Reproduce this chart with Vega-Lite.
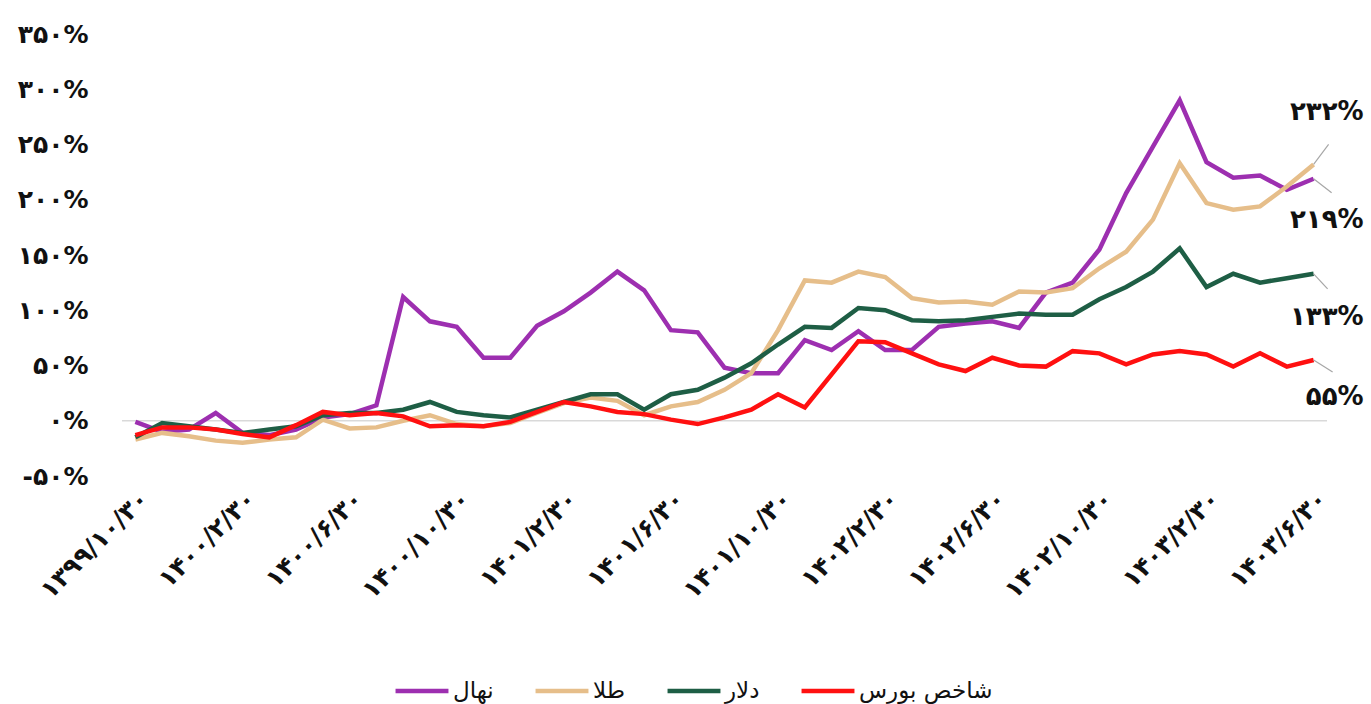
{
  "$schema": "https://vega.github.io/schema/vega-lite/v6.json",
  "autosize": {"type": "none"},
  "width": 1205,
  "height": 442,
  "padding": {"left": 122, "top": 34, "right": 44, "bottom": 228},
  "background": "white",
  "config": {"view": {"stroke": null}, "font": "DejaVu Sans"},
  "datasets": {
    "series": [
      {"d": "۱۳۹۹/۱۰/۳۰", "نهال": -1, "طلا": -17, "دلار": -15, "شاخص بورس": -13},
      {"d": "۱۳۹۹/۱۱/۳۰", "نهال": -10, "طلا": -11, "دلار": -2, "شاخص بورس": -6},
      {"d": "۱۳۹۹/۱۲/۳۰", "نهال": -8, "طلا": -14, "دلار": -5, "شاخص بورس": -6},
      {"d": "۱۴۰۰/۱/۳۰", "نهال": 7, "طلا": -18, "دلار": -8, "شاخص بورس": -8},
      {"d": "۱۴۰۰/۲/۳۰", "نهال": -11, "طلا": -20, "دلار": -11, "شاخص بورس": -12},
      {"d": "۱۴۰۰/۳/۳۰", "نهال": -13, "طلا": -17, "دلار": -8, "شاخص بورس": -15},
      {"d": "۱۴۰۰/۴/۳۰", "نهال": -8, "طلا": -15, "دلار": -5, "شاخص بورس": -4},
      {"d": "۱۴۰۰/۵/۳۰", "نهال": 3, "طلا": 1, "دلار": 5, "شاخص بورس": 8},
      {"d": "۱۴۰۰/۶/۳۰", "نهال": 6, "طلا": -7, "دلار": 7, "شاخص بورس": 5},
      {"d": "۱۴۰۰/۷/۳۰", "نهال": 14, "طلا": -6, "دلار": 7, "شاخص بورس": 7},
      {"d": "۱۴۰۰/۸/۳۰", "نهال": 112, "طلا": 0, "دلار": 10, "شاخص بورس": 4},
      {"d": "۱۴۰۰/۹/۳۰", "نهال": 90, "طلا": 5, "دلار": 17, "شاخص بورس": -5},
      {"d": "۱۴۰۰/۱۰/۳۰", "نهال": 85, "طلا": -3, "دلار": 8, "شاخص بورس": -4},
      {"d": "۱۴۰۰/۱۱/۳۰", "نهال": 57, "طلا": -5, "دلار": 5, "شاخص بورس": -5},
      {"d": "۱۴۰۰/۱۲/۲۹", "نهال": 57, "طلا": -2, "دلار": 3, "شاخص بورس": -1},
      {"d": "۱۴۰۱/۱/۳۰", "نهال": 86, "طلا": 7, "دلار": 10, "شاخص بورس": 8},
      {"d": "۱۴۰۱/۲/۳۰", "نهال": 99, "طلا": 16, "دلار": 17, "شاخص بورس": 17},
      {"d": "۱۴۰۱/۳/۳۰", "نهال": 116, "طلا": 21, "دلار": 24, "شاخص بورس": 13},
      {"d": "۱۴۰۱/۴/۳۰", "نهال": 135, "طلا": 18, "دلار": 24, "شاخص بورس": 8},
      {"d": "۱۴۰۱/۵/۳۰", "نهال": 118, "طلا": 5, "دلار": 10, "شاخص بورس": 6},
      {"d": "۱۴۰۱/۶/۳۰", "نهال": 82, "طلا": 13, "دلار": 24, "شاخص بورس": 1},
      {"d": "۱۴۰۱/۷/۳۰", "نهال": 80, "طلا": 17, "دلار": 28, "شاخص بورس": -3},
      {"d": "۱۴۰۱/۸/۳۰", "نهال": 48, "طلا": 28, "دلار": 39, "شاخص بورس": 3},
      {"d": "۱۴۰۱/۹/۳۰", "نهال": 43, "طلا": 43, "دلار": 52, "شاخص بورس": 10},
      {"d": "۱۴۰۱/۱۰/۳۰", "نهال": 43, "طلا": 82, "دلار": 69, "شاخص بورس": 24},
      {"d": "۱۴۰۱/۱۱/۳۰", "نهال": 73, "طلا": 127, "دلار": 85, "شاخص بورس": 12},
      {"d": "۱۴۰۱/۱۲/۲۹", "نهال": 64, "طلا": 125, "دلار": 84, "شاخص بورس": 42},
      {"d": "۱۴۰۲/۱/۳۰", "نهال": 81, "طلا": 135, "دلار": 102, "شاخص بورس": 72},
      {"d": "۱۴۰۲/۲/۳۰", "نهال": 64, "طلا": 130, "دلار": 100, "شاخص بورس": 71},
      {"d": "۱۴۰۲/۳/۳۰", "نهال": 64, "طلا": 111, "دلار": 91, "شاخص بورس": 61},
      {"d": "۱۴۰۲/۴/۳۰", "نهال": 85, "طلا": 107, "دلار": 90, "شاخص بورس": 51},
      {"d": "۱۴۰۲/۵/۳۰", "نهال": 88, "طلا": 108, "دلار": 91, "شاخص بورس": 45},
      {"d": "۱۴۰۲/۶/۳۰", "نهال": 90, "طلا": 105, "دلار": 94, "شاخص بورس": 57},
      {"d": "۱۴۰۲/۷/۳۰", "نهال": 84, "طلا": 117, "دلار": 97, "شاخص بورس": 50},
      {"d": "۱۴۰۲/۸/۳۰", "نهال": 116, "طلا": 116, "دلار": 96, "شاخص بورس": 49},
      {"d": "۱۴۰۲/۹/۳۰", "نهال": 125, "طلا": 120, "دلار": 96, "شاخص بورس": 63},
      {"d": "۱۴۰۲/۱۰/۳۰", "نهال": 155, "طلا": 138, "دلار": 110, "شاخص بورس": 61},
      {"d": "۱۴۰۲/۱۱/۳۰", "نهال": 206, "طلا": 153, "دلار": 121, "شاخص بورس": 51},
      {"d": "۱۴۰۲/۱۲/۲۹", "نهال": 248, "طلا": 182, "دلار": 135, "شاخص بورس": 60},
      {"d": "۱۴۰۳/۱/۳۰", "نهال": 290, "طلا": 233, "دلار": 156, "شاخص بورس": 63},
      {"d": "۱۴۰۳/۲/۳۰", "نهال": 234, "طلا": 197, "دلار": 121, "شاخص بورس": 60},
      {"d": "۱۴۰۳/۳/۳۰", "نهال": 220, "طلا": 191, "دلار": 133, "شاخص بورس": 49},
      {"d": "۱۴۰۳/۴/۳۰", "نهال": 222, "طلا": 194, "دلار": 125, "شاخص بورس": 61},
      {"d": "۱۴۰۳/۵/۳۰", "نهال": 209, "طلا": 212, "دلار": 129, "شاخص بورس": 49},
      {"d": "۱۴۰۳/۶/۳۰", "نهال": 219, "طلا": 232, "دلار": 133, "شاخص بورس": 55}
    ],
    "labels": [
      {"s": "طلا", "d": "۱۴۰۳/۶/۳۰", "v": 232, "t": "۲۳۲%"},
      {"s": "نهال", "d": "۱۴۰۳/۶/۳۰", "v": 219, "t": "۲۱۹%"},
      {"s": "دلار", "d": "۱۴۰۳/۶/۳۰", "v": 133, "t": "۱۳۳%"},
      {"s": "شاخص بورس", "d": "۱۴۰۳/۶/۳۰", "v": 55, "t": "۵۵%"}
    ]
  },
  "layer": [
    {
      "data": {"values": [{"z": 0}]},
      "mark": {"type": "rule", "color": "#d9d9d9", "strokeWidth": 1.5},
      "encoding": {"y": {"field": "z", "type": "quantitative"}}
    },
    {
      "data": {"name": "series"},
      "transform": [{"fold": ["نهال", "طلا", "دلار", "شاخص بورس"], "as": ["s", "v"]}],
      "mark": {"type": "line", "strokeJoin": "miter", "strokeCap": "butt"},
      "encoding": {
        "x": {
          "field": "d", "type": "ordinal", "sort": null,
          "scale": {"type": "point", "padding": 0.5},
          "axis": {
            "title": null, "domain": false, "ticks": false, "grid": false,
            "labelAngle": -45, "labelFontSize": 25, "labelFontWeight": "bold",
            "labelColor": "#111111", "labelPadding": 10, "labelFont": "DejaVu Sans",
            "values": ["۱۳۹۹/۱۰/۳۰", "۱۴۰۰/۲/۳۰", "۱۴۰۰/۶/۳۰", "۱۴۰۰/۱۰/۳۰", "۱۴۰۱/۲/۳۰", "۱۴۰۱/۶/۳۰", "۱۴۰۱/۱۰/۳۰", "۱۴۰۲/۲/۳۰", "۱۴۰۲/۶/۳۰", "۱۴۰۲/۱۰/۳۰", "۱۴۰۳/۲/۳۰", "۱۴۰۳/۶/۳۰"]
          }
        },
        "y": {
          "field": "v", "type": "quantitative",
          "scale": {"domain": [-50, 350], "nice": false, "zero": false},
          "axis": {
            "title": null, "domain": false, "ticks": false, "grid": false,
            "values": [-50, 0, 50, 100, 150, 200, 250, 300, 350],
            "labelFontSize": 25, "labelFontWeight": "bold", "labelColor": "#111111",
            "labelPadding": 34, "labelFont": "DejaVu Sans",
            "labelExpr": "replace(replace(replace(replace(replace(replace(replace(replace(replace(replace(toString(datum.value),regexp('0','g'),'۰'),regexp('1','g'),'۱'),regexp('2','g'),'۲'),regexp('3','g'),'۳'),regexp('4','g'),'۴'),regexp('5','g'),'۵'),regexp('6','g'),'۶'),regexp('7','g'),'۷'),regexp('8','g'),'۸'),regexp('9','g'),'۹') + '%'"
          }
        },
        "strokeWidth": {
          "field": "s", "type": "nominal",
          "scale": {"domain": ["نهال", "طلا", "دلار", "شاخص بورس"], "range": [4.5, 4.5, 4.5, 5.5]},
          "legend": null
        },
        "color": {
          "field": "s", "type": "nominal",
          "scale": {"domain": ["نهال", "طلا", "دلار", "شاخص بورس"], "range": ["#9d2fb0", "#e6be8a", "#1e5e45", "#ff1010"]},
          "legend": {
            "title": null, "orient": "none", "direction": "horizontal",
            "legendX": 271, "legendY": 628,
            "symbolType": "stroke", "symbolSize": 2800, "symbolStrokeWidth": 4,
            "labelFontSize": 23, "labelFont": "DejaVu Sans", "labelColor": "#111111",
            "labelOffset": 2, "columnPadding": 32
          }
        }
      }
    },
    {
      "data": {"name": "labels"},
      "transform": [{"filter": "datum.s === 'طلا'"}],
      "mark": {"type": "rule", "color": "#a6a6a6", "strokeWidth": 1.2, "x2Offset": 15, "y2Offset": -20},
      "encoding": {
        "x": {"field": "d", "type": "ordinal", "sort": null},
        "x2": {"field": "d"},
        "y": {"field": "v", "type": "quantitative"},
        "y2": {"field": "v"}
      }
    },
    {
      "data": {"name": "labels"},
      "transform": [{"filter": "datum.s === 'نهال'"}],
      "mark": {"type": "rule", "color": "#a6a6a6", "strokeWidth": 1.2, "x2Offset": 18, "y2Offset": 14},
      "encoding": {
        "x": {"field": "d", "type": "ordinal", "sort": null},
        "x2": {"field": "d"},
        "y": {"field": "v", "type": "quantitative"},
        "y2": {"field": "v"}
      }
    },
    {
      "data": {"name": "labels"},
      "transform": [{"filter": "datum.s === 'دلار'"}],
      "mark": {"type": "rule", "color": "#a6a6a6", "strokeWidth": 1.2, "x2Offset": 14, "y2Offset": 15},
      "encoding": {
        "x": {"field": "d", "type": "ordinal", "sort": null},
        "x2": {"field": "d"},
        "y": {"field": "v", "type": "quantitative"},
        "y2": {"field": "v"}
      }
    },
    {
      "data": {"name": "labels"},
      "transform": [{"filter": "datum.s === 'شاخص بورس'"}],
      "mark": {"type": "rule", "color": "#a6a6a6", "strokeWidth": 1.2, "x2Offset": 19, "y2Offset": 12},
      "encoding": {
        "x": {"field": "d", "type": "ordinal", "sort": null},
        "x2": {"field": "d"},
        "y": {"field": "v", "type": "quantitative"},
        "y2": {"field": "v"}
      }
    },
    {
      "data": {"name": "labels"},
      "transform": [{"filter": "datum.s === 'طلا'"}],
      "mark": {"type": "text", "align": "right", "baseline": "middle", "dx": 50, "dy": -52, "fontSize": 26, "fontWeight": "bold", "color": "#111111", "font": "DejaVu Sans"},
      "encoding": {
        "x": {"field": "d", "type": "ordinal", "sort": null},
        "y": {"field": "v", "type": "quantitative"},
        "text": {"field": "t"}
      }
    },
    {
      "data": {"name": "labels"},
      "transform": [{"filter": "datum.s === 'نهال'"}],
      "mark": {"type": "text", "align": "right", "baseline": "middle", "dx": 50, "dy": 41, "fontSize": 26, "fontWeight": "bold", "color": "#111111", "font": "DejaVu Sans"},
      "encoding": {
        "x": {"field": "d", "type": "ordinal", "sort": null},
        "y": {"field": "v", "type": "quantitative"},
        "text": {"field": "t"}
      }
    },
    {
      "data": {"name": "labels"},
      "transform": [{"filter": "datum.s === 'دلار'"}],
      "mark": {"type": "text", "align": "right", "baseline": "middle", "dx": 50, "dy": 43, "fontSize": 26, "fontWeight": "bold", "color": "#111111", "font": "DejaVu Sans"},
      "encoding": {
        "x": {"field": "d", "type": "ordinal", "sort": null},
        "y": {"field": "v", "type": "quantitative"},
        "text": {"field": "t"}
      }
    },
    {
      "data": {"name": "labels"},
      "transform": [{"filter": "datum.s === 'شاخص بورس'"}],
      "mark": {"type": "text", "align": "right", "baseline": "middle", "dx": 50, "dy": 37, "fontSize": 26, "fontWeight": "bold", "color": "#111111", "font": "DejaVu Sans"},
      "encoding": {
        "x": {"field": "d", "type": "ordinal", "sort": null},
        "y": {"field": "v", "type": "quantitative"},
        "text": {"field": "t"}
      }
    }
  ]
}
